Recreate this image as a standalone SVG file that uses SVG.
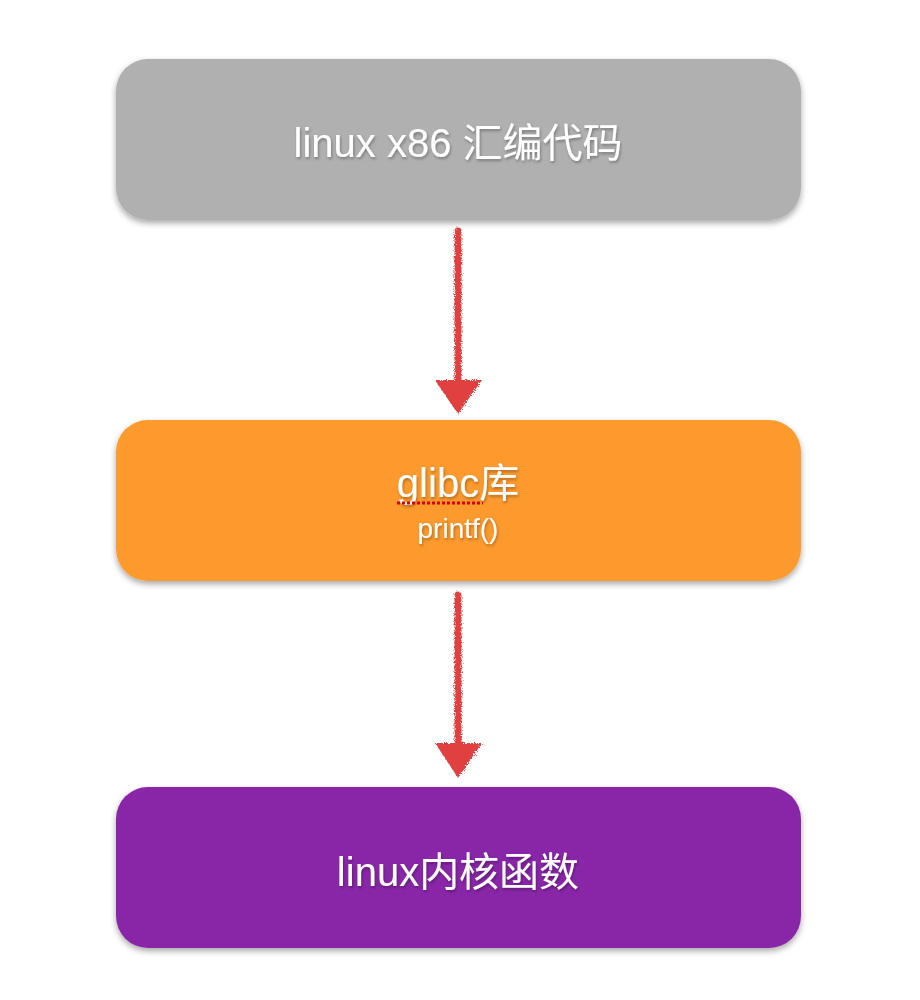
<svg xmlns="http://www.w3.org/2000/svg" width="920" height="1000" viewBox="0 0 920 1000">
<style>
.box{stroke:none;filter:url(#sh)}
.t{fill:#ffffff;font-family:"Liberation Sans","Noto Sans CJK SC",sans-serif;text-anchor:middle;filter:url(#tsh)}
.line{stroke:#e0413f;stroke-width:7;stroke-linecap:round;fill:none}
.head{fill:#e0413f}
.rough{filter:url(#rough)}
</style>
<defs>
<filter id="sh" x="-5%" y="-10%" width="110%" height="130%">
<feDropShadow dx="0" dy="3" stdDeviation="3" flood-color="#000" flood-opacity="0.35"/>
</filter>
<filter id="tsh" x="-10%" y="-20%" width="120%" height="150%">
<feDropShadow dx="1" dy="2" stdDeviation="1.5" flood-color="#000" flood-opacity="0.3"/>
</filter>
<filter id="rough" filterUnits="userSpaceOnUse" x="0" y="0" width="920" height="1000">
<feTurbulence type="fractalNoise" baseFrequency="0.9" numOctaves="2" result="n"/>
<feDisplacementMap in="SourceGraphic" in2="n" scale="5"/>
</filter>
</defs>
<rect width="920" height="1000" fill="#ffffff"/>
<g id="connectors" class="rough">
<g id="arrow1">
<line class="line" x1="458" y1="231" x2="458" y2="384"/>
<polygon class="head" points="435,380 482,380 458,414"/>
</g>
<g id="arrow2">
<line class="line" x1="458" y1="595" x2="458" y2="746"/>
<polygon class="head" points="435,743 482,743 458,778"/>
</g>
</g>
<g id="node-asm">
<rect class="box" x="116" y="59" width="685" height="161" rx="32" fill="#b0b0b0"/>
<text class="t" x="458" y="157" font-size="40">linux x86 汇编代码</text>
</g>
<g id="node-glibc">
<rect class="box" x="116" y="420" width="685" height="161" rx="32" fill="#fd9a2e"/>
<text class="t" x="458" y="497" font-size="40">glibc库</text>
<line x1="397" y1="503" x2="483" y2="503" stroke="#e00000" stroke-width="3" stroke-dasharray="3,2"/>
<text class="t" x="458" y="538" font-size="28">printf()</text>
</g>
<g id="node-kernel">
<rect class="box" x="116" y="787" width="685" height="161" rx="32" fill="#8928a8"/>
<text class="t" x="458" y="886" font-size="40">linux内核函数</text>
</g>
</svg>
